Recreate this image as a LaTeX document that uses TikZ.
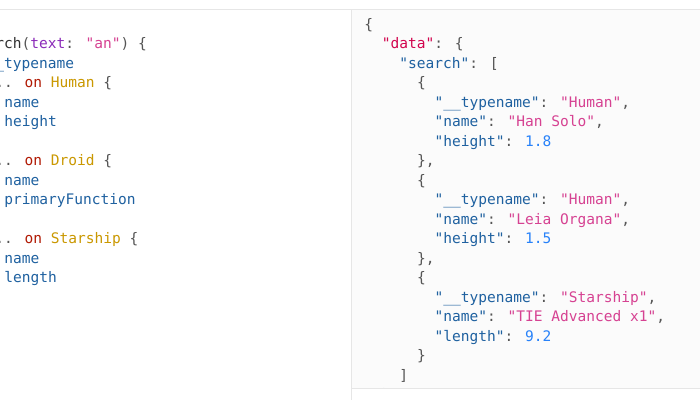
\documentclass[tikz,border=0pt]{standalone}
\usepackage{fontspec}
\newfontfamily\code{DejaVu Sans Mono}
\definecolor{pun}{HTML}{555555}
\definecolor{fld}{HTML}{1F61A0}
\definecolor{str}{HTML}{D64292}
\definecolor{num}{HTML}{2882F9}
\definecolor{kw}{HTML}{B11A04}
\definecolor{typ}{HTML}{CA9800}
\definecolor{att}{HTML}{8B2BB9}
\definecolor{rootc}{HTML}{D2054E}
\definecolor{dfc}{HTML}{333333}
\definecolor{edge}{HTML}{E6E6E6}
\definecolor{panel}{HTML}{FBFBFB}
\newcommand{\cP}[1]{\textcolor{pun}{#1}}
\newcommand{\cF}[1]{\textcolor{fld}{#1}}
\newcommand{\cS}[1]{\textcolor{str}{#1}}
\newcommand{\cN}[1]{\textcolor{num}{#1}}
\newcommand{\cK}[1]{\textcolor{kw}{#1}}
\newcommand{\cT}[1]{\textcolor{typ}{#1}}
\begin{document}
\begin{tikzpicture}[x=0.75pt,y=-0.75pt,
  ln/.style={anchor=base west,inner sep=0pt,font=\code\fontsize{10.9}{13}\selectfont,text=pun}]
\useasboundingbox (0,0) rectangle (700,400);
\fill[white] (0,0) rectangle (700,400);
\fill[panel] (351,10) rectangle (700,388);
\draw[edge,line width=0.75pt] (0,9.5) -- (700,9.5);
\draw[edge,line width=0.75pt] (351,10) -- (351,400);
\draw[edge,line width=0.75pt] (351,388) -- (700,388);
\begin{scope}
\clip (0,10) rectangle (350.5,400);
\node[ln] (l0) at (-48.8,29) {\cP{\{}};
\node[ln] (l1) at (-31.2,48.5) {\textcolor{dfc}{search}\cP{(}\textcolor{att}{text}\cP{: }\cS{"an"}\cP{) \{}};
\node[ln] (l2) at (-13.6,68) {\cF{\_\_typename}};
\node[ln] (l3) at (-13.6,87.5) {\cP{... }\cK{on} \cT{Human} \cP{\{}};
\node[ln] (l4) at (4,107) {\cF{name}};
\node[ln] (l5) at (4,126.5) {\cF{height}};
\node[ln] (l6) at (-13.6,146) {\cP{\}}};
\node[ln] (l7) at (-13.6,165.5) {\cP{... }\cK{on} \cT{Droid} \cP{\{}};
\node[ln] (l8) at (4,185) {\cF{name}};
\node[ln] (l9) at (4,204.5) {\cF{primaryFunction}};
\node[ln] (l10) at (-13.6,224) {\cP{\}}};
\node[ln] (l11) at (-13.6,243.5) {\cP{... }\cK{on} \cT{Starship} \cP{\{}};
\node[ln] (l12) at (4,263) {\cF{name}};
\node[ln] (l13) at (4,282.5) {\cF{length}};
\node[ln] (l14) at (-13.6,302) {\cP{\}}};
\node[ln] (l15) at (-31.2,321.5) {\cP{\}}};
\node[ln] (l16) at (-48.8,341) {\cP{\}}};
\end{scope}
\begin{scope}
\clip (351.5,10) rectangle (700,387.5);
\node[ln] (r0) at (364,29) {\cP{\{}};
\node[ln] (r1) at (381.6,48.5) {\textcolor{rootc}{"data"}\cP{: \{}};
\node[ln] (r2) at (399.2,68) {\cF{"search"}\cP{: [}};
\node[ln] (r3) at (416.8,87.5) {\cP{\{}};
\node[ln] (r4) at (434.4,107) {\cF{"\_\_typename"}\cP{: }\cS{"Human"}\cP{,}};
\node[ln] (r5) at (434.4,126.5) {\cF{"name"}\cP{: }\cS{"Han Solo"}\cP{,}};
\node[ln] (r6) at (434.4,146) {\cF{"height"}\cP{: }\cN{1.8}};
\node[ln] (r7) at (416.8,165.5) {\cP{\},}};
\node[ln] (r8) at (416.8,185) {\cP{\{}};
\node[ln] (r9) at (434.4,204.5) {\cF{"\_\_typename"}\cP{: }\cS{"Human"}\cP{,}};
\node[ln] (r10) at (434.4,224) {\cF{"name"}\cP{: }\cS{"Leia Organa"}\cP{,}};
\node[ln] (r11) at (434.4,243.5) {\cF{"height"}\cP{: }\cN{1.5}};
\node[ln] (r12) at (416.8,263) {\cP{\},}};
\node[ln] (r13) at (416.8,282.5) {\cP{\{}};
\node[ln] (r14) at (434.4,302) {\cF{"\_\_typename"}\cP{: }\cS{"Starship"}\cP{,}};
\node[ln] (r15) at (434.4,321.5) {\cF{"name"}\cP{: }\cS{"TIE Advanced x1"}\cP{,}};
\node[ln] (r16) at (434.4,341) {\cF{"length"}\cP{: }\cN{9.2}};
\node[ln] (r17) at (416.8,360.5) {\cP{\}}};
\node[ln] (r18) at (399.2,380) {\cP{]}};
\node[ln] (r19) at (381.6,399.5) {\cP{\}}};
\end{scope}
\end{tikzpicture}
\end{document}
